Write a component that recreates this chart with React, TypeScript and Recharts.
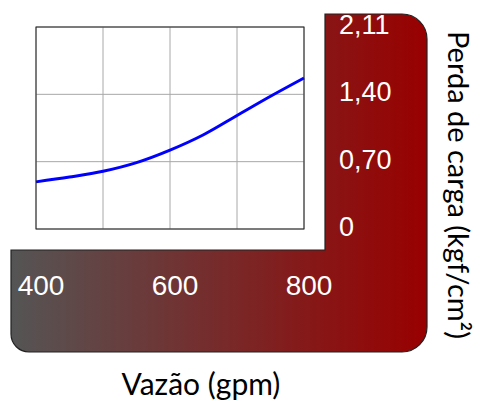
import { ComposedChart, Line, XAxis, YAxis, CartesianGrid } from 'recharts';

const flow = [400, 450, 500, 550, 600, 650, 700, 750, 800];
const loss = [0.49, 0.54, 0.6, 0.69, 0.82, 0.98, 1.18, 1.38, 1.57];

const xTicks = [400, 500, 600, 700, 800];
const xLabels: Record<number, string> = { 400: '400', 600: '600', 800: '800' };
const yTicks = [0, 0.7, 1.4, 2.1];
const yLabels = ['0', '0,70', '1,40', '2,11'];

const data = flow.map((f, i) => ({ flow: f, loss: loss[i] }));

const tickFont = '"Liberation Sans", Arial, sans-serif';
const titleFont = 'Lato, "Open Sans", sans-serif';

const XTick = (props: any) => {
    const { x, payload } = props;
    const label = xLabels[payload.value];
    if (!label) return null;
    return (
        <text x={x + 5} y={295} textAnchor="middle" fill="#fff" fontSize={28} style={{ fontFamily: tickFont }}>
            {label}
        </text>
    );
};

const YTick = (props: any) => {
    const { y, payload } = props;
    const idx = yTicks.indexOf(payload.value);
    return (
        <text x={339} y={y + 7} textAnchor="start" fill="#fff" fontSize={27} style={{ fontFamily: tickFont }}>
            {yLabels[idx]}
        </text>
    );
};

export default function App() {
    return (
        <div style={{ position: 'absolute', left: 0, top: 0, width: 478, height: 404, background: '#fff' }}>
            <svg width={478} height={404} style={{ position: 'absolute', left: 0, top: 0 }}>
                <defs>
                    <linearGradient id="bg" x1="11" y1="0" x2="427" y2="0" gradientUnits="userSpaceOnUse">
                        <stop offset="0" stopColor="#555555" />
                        <stop offset="1" stopColor="#990000" />
                    </linearGradient>
                </defs>
                <path
                    d="M325,14 H402 A25,25 0 0 1 427,39 V327 A25,25 0 0 1 402,352 H29 A18,18 0 0 1 11,334 V250 H325 Z"
                    fill="url(#bg)"
                    stroke="#222"
                    strokeWidth={1.2}
                />
                <text x={201} y={395} textAnchor="middle" fontSize={30} style={{ fontFamily: titleFont }} fill="#000">
                    Vazão (gpm)
                </text>
                <text
                    x={448}
                    y={185}
                    textAnchor="middle"
                    fontSize={29}
                    style={{ fontFamily: titleFont }}
                    fill="#000"
                    transform="rotate(90 448 185)"
                >
                    Perda de carga (kgf/cm²)
                </text>
            </svg>
            <div style={{ position: 'absolute', left: 0, top: 0 }}>
                <ComposedChart width={478} height={404} data={data} margin={{ top: 27, right: 114, bottom: 115, left: 36 }}>
                    <CartesianGrid stroke="#a8a8a8" strokeWidth={1} fill="#fff" />
                    <XAxis
                        dataKey="flow"
                        type="number"
                        domain={[400, 800]}
                        ticks={xTicks}
                        height={60}
                        axisLine={false}
                        tickLine={false}
                        tick={<XTick />}
                        interval={0}
                    />
                    <YAxis
                        orientation="right"
                        type="number"
                        domain={[0, 2.1]}
                        ticks={yTicks}
                        width={60}
                        axisLine={false}
                        tickLine={false}
                        tick={<YTick />}
                        interval={0}
                    />
                    <Line
                        dataKey="loss"
                        type="monotone"
                        stroke="#0000ff"
                        strokeWidth={3}
                        dot={false}
                        isAnimationActive={false}
                    />
                </ComposedChart>
            </div>
            <svg width={478} height={404} style={{ position: 'absolute', left: 0, top: 0, pointerEvents: 'none' }}>
                <rect x={36} y={27} width={268} height={202} fill="none" stroke="#222" strokeWidth={1} />
            </svg>
        </div>
    );
}
